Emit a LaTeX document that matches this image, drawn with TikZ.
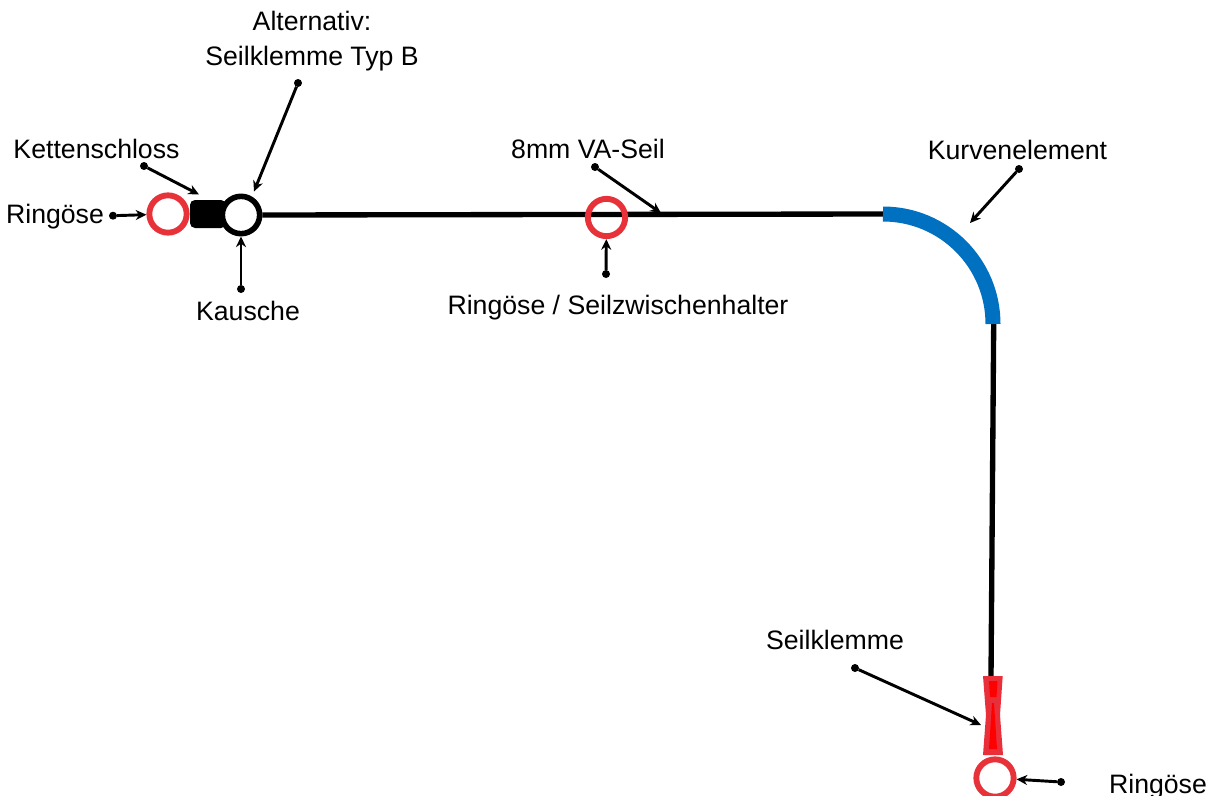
\documentclass[tikz,border=0pt]{standalone}
\usepackage{fontspec}
\setmainfont{Liberation Sans}
\usetikzlibrary{arrows.meta}
\definecolor{ringred}{HTML}{E7323A}
\definecolor{curveblue}{HTML}{0070C0}
\definecolor{clampred}{HTML}{E9303A}
\definecolor{clampcore}{HTML}{FF0000}
\tikzset{
  x=0.75pt,y=-0.75pt,
  label text/.style={font=\fontsize{20pt}{26pt}\selectfont,text=black,inner sep=0pt,anchor=base,align=center},
  ringnode/.style={circle,draw=ringred,line width=4.4pt,minimum size=28pt,inner sep=0pt,outer sep=2.2pt},
  kauschenode/.style={circle,draw=black,fill=white,line width=4.2pt,minimum size=28pt,inner sep=0pt,outer sep=2.1pt},
  startdot/.style={circle,fill=black,minimum size=6pt,inner sep=0pt,outer sep=0pt},
  pointer/.style={draw=black,line width=2.2pt,-{Stealth[length=8pt,width=7.5pt]}},
  rope/.style={draw=black,line width=4pt}
}
\begin{document}
\begin{tikzpicture}
\useasboundingbox (0,0) rectangle (1214,796);
% free ends
\coordinate (ropeA) at (883,214);
\coordinate (ropeB) at (993.7,324);
\coordinate (ropeC) at (991,677);
\coordinate (tipKette) at (199,194.5);
\coordinate (tipTypB) at (254,191.5);
\coordinate (tipSeil) at (661,213);
\coordinate (tipKurve) at (970,223);
\coordinate (tipKlemme) at (981,725);
% lock and rope
\node[fill=black,rounded corners=3.75pt,minimum width=27pt,minimum height=21pt,inner sep=0pt] (lock) at (208,214) {};
\node[kauschenode] (kausche) at (241,215) {};
\draw[rope] (kausche.east) -- (ropeA);
\draw[rope] (ropeB) -- (ropeC);
% curve
\draw[curveblue,line width=11.25pt] (ropeA) arc[start angle=-90,end angle=0,radius=110];
% rings
\node[ringnode] (ringL) at (168,214) {};
\node[ringnode] (ringM) at (606.5,217.5) {};
\node[ringnode] (ringB) at (995,778) {};
% clamp
\fill[clampred] (983,676) -- (1002.7,676) -- (1000,715) -- (1003,755) -- (983,755) -- (986,715) -- cycle;
\fill[clampcore] (989,681) -- (997.5,681) -- (996.5,697) -- (990,697) -- cycle;
\fill[clampcore] (992,703) -- (994,703) -- (997,749) -- (989,749) -- cycle;
% pointer start dots
\node[startdot] (dRingL) at (113,215.7) {};
\node[startdot] (dKette) at (144,166) {};
\node[startdot] (dTypB) at (298,83) {};
\node[startdot] (dKausche) at (241,289) {};
\node[startdot] (dSeil) at (595,167) {};
\node[startdot] (dRingM) at (606,274) {};
\node[startdot] (dKurve) at (1019,169) {};
\node[startdot] (dKlemme) at (855,668) {};
\node[startdot] (dRingB) at (1061,782) {};
% pointers
\draw[pointer] (dRingL) -- (ringL);
\draw[pointer] (dKette) -- (tipKette);
\draw[pointer] (dTypB) -- (tipTypB);
\draw[pointer] (dKausche) -- (kausche);
\draw[pointer] (dSeil) -- (tipSeil);
\draw[pointer] (dRingM) -- (ringM);
\draw[pointer] (dKurve) -- (tipKurve);
\draw[pointer] (dKlemme) -- (tipKlemme);
\draw[pointer] (dRingB) -- (ringB);
% labels
\node[label text] (tAlt) at (312,30) {Alternativ:};
\node[label text] (tTypB) at (312,65) {Seilklemme Typ B};
\node[label text] (tKette) at (96.5,158) {Kettenschloss};
\node[label text] (tRingL) at (55,223) {Ringöse};
\node[label text] (tKausche) at (248,320) {Kausche};
\node[label text] (tSeil) at (588,158) {8mm VA-Seil};
\node[label text] (tRingM) at (618,314) {Ringöse / Seilzwischenhalter};
\node[label text] (tKurve) at (1017.5,159) {Kurvenelement};
\node[label text] (tKlemme) at (835,649) {Seilklemme};
\node[label text] (tRingB) at (1158,793) {Ringöse};
\end{tikzpicture}
\end{document}
